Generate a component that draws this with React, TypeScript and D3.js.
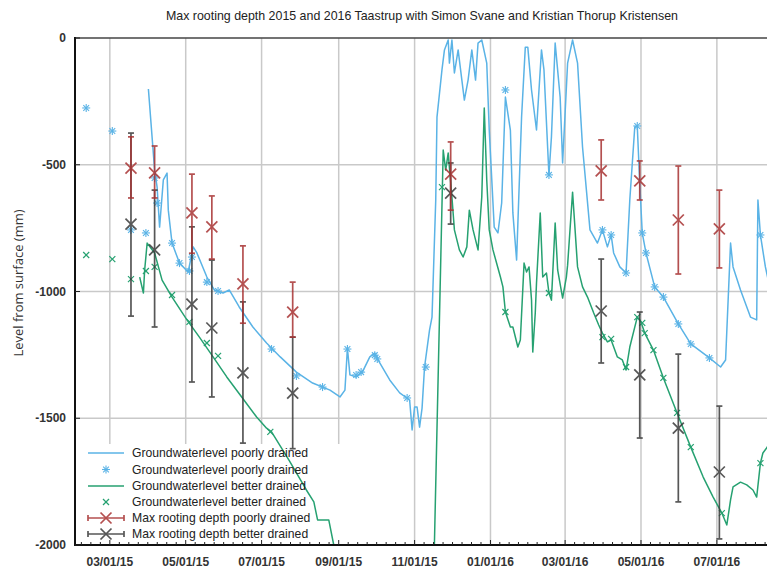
import React from "react";
import * as d3 from "d3";

// ---------- DATA ----------
const title = "Max rooting depth 2015 and 2016 Taastrup with Simon Svane and Kristian Thorup Kristensen";
const yLabel = "Level from surface (mm)";
const yTicks = [0, -500, -1000, -1500, -2000];

// continuous groundwater level, poorly drained [date, mm]
const poorlyLine: [string, number][] = [
  ["2015-04-01",-201],["2015-04-06",-521],["2015-04-08",-588],["2015-04-10",-746],["2015-04-13",-560],["2015-04-16",-533],["2015-04-17",-679],["2015-04-20",-809],["2015-04-26",-888],["2015-05-03",-923],["2015-05-07",-824],["2015-05-10",-848],["2015-05-18",-943],["2015-05-24",-994],["2015-05-31",-1006],["2015-06-05",-994],["2015-06-13",-1061],["2015-06-24",-1140],["2015-07-05",-1203],["2015-07-16",-1258],["2015-07-29",-1318],["2015-08-11",-1361],["2015-08-25",-1389],["2015-09-02",-1416],["2015-09-06",-1389],["2015-09-08",-1223],["2015-09-10",-1329],["2015-09-15",-1337],["2015-09-20",-1318],["2015-09-26",-1258],["2015-09-30",-1243],["2015-10-04",-1282],["2015-10-12",-1349],["2015-10-20",-1400],["2015-10-28",-1428],["2015-10-30",-1546],["2015-11-01",-1456],["2015-11-03",-1456],["2015-11-05",-1535],["2015-11-07",-1460],["2015-11-09",-1298],["2015-11-13",-1152],["2015-11-15",-1101],["2015-11-18",-639],["2015-11-19",-312],["2015-11-23",-126],["2015-11-25",-47],["2015-11-28",-8],["2015-11-29",-99],["2015-12-01",-8],["2015-12-03",-138],["2015-12-06",-47],["2015-12-09",-166],["2015-12-11",-245],["2015-12-14",-166],["2015-12-17",-47],["2015-12-20",-166],["2015-12-22",-20],["2015-12-25",-8],["2015-12-29",-99],["2015-12-31",-363],["2016-01-04",-746],["2016-01-07",-769],["2016-01-10",-651],["2016-01-13",-233],["2016-01-17",-363],["2016-01-19",-690],["2016-01-22",-876],["2016-01-26",-312],["2016-01-29",-36],["2016-01-31",-36],["2016-02-03",-205],["2016-02-07",-363],["2016-02-11",-47],["2016-02-13",-126],["2016-02-17",-540],["2016-02-19",-391],["2016-02-22",-20],["2016-02-26",-233],["2016-02-28",-493],["2016-03-03",-99],["2016-03-07",-8],["2016-03-11",-99],["2016-03-15",-430],["2016-03-21",-757],["2016-03-27",-809],["2016-03-31",-757],["2016-04-04",-824],["2016-04-07",-777],["2016-04-09",-848],["2016-04-14",-903],["2016-04-19",-927],["2016-04-22",-639],["2016-04-26",-351],["2016-04-28",-347],["2016-04-30",-572],["2016-05-02",-769],["2016-05-05",-848],["2016-05-12",-982],["2016-05-19",-1022],["2016-05-31",-1128],["2016-06-10",-1207],["2016-06-25",-1262],["2016-07-04",-1298],["2016-07-08",-1270],["2016-07-12",-809],["2016-07-14",-903],["2016-07-20",-994],["2016-07-28",-1101],["2016-08-02",-1112],["2016-08-03",-639],["2016-08-05",-777],["2016-08-09",-903],["2016-08-13",-994]
];

// manual groundwater readings, poorly drained
const poorlyPoints: [string, number][] = [
  ["2015-02-10",-276],["2015-03-03",-367],["2015-03-18",-757],["2015-03-30",-769],["2015-04-06",-552],["2015-04-08",-651],["2015-04-20",-809],["2015-04-26",-888],["2015-05-04",-919],["2015-05-06",-864],["2015-05-18",-963],["2015-05-27",-998],["2015-07-09",-1227],["2015-07-29",-1333],["2015-08-19",-1377],["2015-09-08",-1227],["2015-09-15",-1329],["2015-09-19",-1318],["2015-09-30",-1251],["2015-10-02",-1266],["2015-10-26",-1420],["2015-11-10",-1298],["2016-01-13",-205],["2016-02-17",-540],["2016-03-31",-757],["2016-04-07",-777],["2016-04-19",-927],["2016-04-28",-347],["2016-05-02",-769],["2016-05-05",-848],["2016-05-12",-982],["2016-05-19",-1022],["2016-05-31",-1128],["2016-06-10",-1207],["2016-06-25",-1262],["2016-08-05",-777]
];

// continuous groundwater level, better drained
const betterLine: [string, number][] = [
  ["2015-03-25",-943],["2015-03-28",-1006],["2015-03-29",-915],["2015-03-31",-809],["2015-04-06",-848],["2015-04-12",-955],["2015-04-20",-1022],["2015-05-02",-1112],["2015-05-12",-1180],["2015-05-23",-1258],["2015-06-03",-1337],["2015-06-15",-1416],["2015-06-27",-1495],["2015-07-05",-1539],["2015-07-09",-1554],["2015-07-23",-1665],["2015-08-06",-1783],["2015-08-12",-1830],["2015-08-15",-1901],["2015-08-24",-1901],["2015-08-28",-2000],["2015-08-31",-2080],["2015-11-16",-2200],["2015-11-24",-442],["2015-11-26",-521],["2015-11-28",-454],["2015-12-01",-627],["2015-12-03",-757],["2015-12-07",-836],["2015-12-10",-864],["2015-12-13",-824],["2015-12-15",-679],["2015-12-18",-757],["2015-12-22",-836],["2015-12-25",-627],["2015-12-27",-276],["2015-12-29",-560],["2015-12-31",-757],["2016-01-03",-836],["2016-01-09",-943],["2016-01-11",-982],["2016-01-13",-1081],["2016-01-17",-1140],["2016-01-19",-1140],["2016-01-23",-1219],["2016-01-25",-1191],["2016-01-28",-888],["2016-01-30",-923],["2016-02-01",-903],["2016-02-03",-1034],["2016-02-04",-1239],["2016-02-06",-1085],["2016-02-07",-967],["2016-02-10",-690],["2016-02-12",-943],["2016-02-15",-927],["2016-02-17",-1006],["2016-02-19",-1034],["2016-02-22",-730],["2016-02-24",-915],["2016-02-28",-1026],["2016-03-02",-943],["2016-03-03",-896],["2016-03-07",-608],["2016-03-11",-903],["2016-03-15",-982],["2016-03-19",-1022],["2016-03-24",-1085],["2016-03-28",-1132],["2016-03-31",-1164],["2016-04-04",-1199],["2016-04-07",-1191],["2016-04-12",-1258],["2016-04-16",-1270],["2016-04-19",-1310],["2016-04-22",-1219],["2016-04-28",-1101],["2016-05-01",-1120],["2016-05-04",-1164],["2016-05-11",-1231],["2016-05-19",-1341],["2016-05-30",-1479],["2016-06-10",-1614],["2016-06-20",-1732],["2016-06-28",-1811],["2016-07-05",-1874],["2016-07-09",-1921],["2016-07-12",-1822],["2016-07-14",-1771],["2016-07-20",-1752],["2016-07-25",-1763],["2016-07-30",-1783],["2016-08-02",-1811],["2016-08-05",-1677],["2016-08-07",-1637],["2016-08-10",-1617],["2016-08-14",-1586]
];

// manual groundwater readings, better drained
const betterPoints: [string, number][] = [
  ["2015-02-10",-856],["2015-03-03",-872],["2015-03-18",-951],["2015-03-30",-919],["2015-04-06",-903],["2015-04-20",-1014],["2015-05-04",-1120],["2015-05-18",-1203],["2015-05-27",-1254],["2015-07-08",-1554],["2015-11-23",-588],["2016-01-13",-1081],["2016-02-17",-1006],["2016-03-31",-1180],["2016-04-07",-1187],["2016-04-19",-1298],["2016-04-28",-1101],["2016-05-02",-1124],["2016-05-04",-1164],["2016-05-11",-1231],["2016-05-19",-1341],["2016-05-30",-1479],["2016-06-10",-1614],["2016-07-05",-1874],["2016-08-05",-1677]
];

// max rooting depth: [date, mean, low, high]
const rootPoorly: [string, number, number, number][] = [
  ["2015-03-18",-513,-631,-390],["2015-04-06",-532,-631,-426],["2015-05-06",-690,-849,-537],["2015-05-22",-745,-872,-623],["2015-06-16",-970,-1125,-820],["2015-07-26",-1081,-1180,-963],["2015-11-30",-537,-679,-410],["2016-03-30",-524,-639,-402],["2016-04-30",-564,-639,-485],["2016-05-31",-718,-931,-505],["2016-07-03",-753,-907,-600]
];
const rootBetter: [string, number, number, number][] = [
  ["2015-03-18",-734,-1097,-375],["2015-04-06",-836,-1140,-600],["2015-05-06",-1050,-1357,-745],["2015-05-22",-1144,-1416,-876],["2015-06-16",-1321,-1598,-1041],["2015-07-26",-1401,-1620,-1180],["2015-11-30",-612,-734,-493],["2016-03-30",-1077,-1282,-872],["2016-04-30",-1329,-1578,-1081],["2016-05-31",-1539,-1830,-1247],["2016-07-03",-1712,-1976,-1452]
];

const legendLabels = [
  "Groundwaterlevel poorly drained",
  "Groundwaterlevel poorly drained",
  "Groundwaterlevel better drained",
  "Groundwaterlevel better drained",
  "Max rooting depth poorly drained",
  "Max rooting depth better drained",
];

// ---------- STYLE ----------
const W = 767, H = 570;
const BLUE = "#5ab3e6";
const GREEN = "#26a171";
const RED = "#a83232";
const BLACK = "#3a3a3a";
const GRID = "#c9c9c9";
const FONT = "'Liberation Sans', Arial, sans-serif";

const parse = d3.utcParse("%Y-%m-%d");
const fmt = d3.utcFormat("%m/%d/%y");

function Star({ x, y, r, color }: { x: number; y: number; r: number; color: string }) {
  const d = r * 0.72;
  return (
    <g stroke={color} strokeWidth={1.1}>
      <line x1={x - r} y1={y} x2={x + r} y2={y} />
      <line x1={x} y1={y - r} x2={x} y2={y + r} />
      <line x1={x - d} y1={y - d} x2={x + d} y2={y + d} />
      <line x1={x - d} y1={y + d} x2={x + d} y2={y - d} />
    </g>
  );
}
function Cross({ x, y, r, color, w = 1.2 }: { x: number; y: number; r: number; color: string; w?: number }) {
  return (
    <g stroke={color} strokeWidth={w}>
      <line x1={x - r} y1={y - r} x2={x + r} y2={y + r} />
      <line x1={x - r} y1={y + r} x2={x + r} y2={y - r} />
    </g>
  );
}

export default function App() {
  const left = 75, top = 38, bottom = 545, right = 794;
  const x = d3.scaleUtc().domain([parse("2015-02-01")!, parse("2016-09-01")!]).range([left, right]);
  const y = d3.scaleLinear().domain([0, -2000]).range([top, bottom]);

  const majors = x.ticks(d3.utcMonth.every(2)!).filter((d) => d > x.domain()[0]);
  const minors: number[] = [];
  for (let i = 0; i < majors.length; i++) {
    const a = x(majors[i]);
    const b = i + 1 < majors.length ? x(majors[i + 1]) : a + (a - x(majors[i - 1]));
    for (let k = 1; k < 8; k++) minors.push(a + ((b - a) * k) / 8);
  }
  {
    const a = x(majors[0]);
    const step = (x(majors[1]) - a) / 8;
    for (let p = a - step; p > left; p -= step) minors.push(p);
  }

  const line = d3
    .line<[string, number]>()
    .x((d) => x(parse(d[0])!))
    .y((d) => y(d[1]));

  const legendY = [453, 469.5, 486, 502, 518, 534];
  const lx1 = 88, lx2 = 124, lxm = (lx1 + lx2) / 2, ltx = 132;

  const errBars = (data: [string, number, number, number][], color: string) =>
    data.map((d, i) => {
      const cx = x(parse(d[0])!);
      return (
        <g key={i} stroke={color} strokeWidth={1.7} opacity={0.85}>
          <line x1={cx} x2={cx} y1={y(d[2])} y2={y(d[3])} />
          <line x1={cx - 3} x2={cx + 3} y1={y(d[2])} y2={y(d[2])} />
          <line x1={cx - 3} x2={cx + 3} y1={y(d[3])} y2={y(d[3])} />
          <Cross x={cx} y={y(d[1])} r={5.5} color={color} w={1.7} />
        </g>
      );
    });

  return (
    <svg width={W} height={H} style={{ position: "absolute", left: 0, top: 0, background: "#fff" }} fontFamily={FONT}>
      <defs>
        <clipPath id="plot">
          <rect x={left} y={top} width={right - left} height={bottom - top} />
        </clipPath>
      </defs>
      <rect x={0} y={0} width={W} height={H} fill="#fff" />
      <text x={422} y={20} textAnchor="middle" fontSize={12.4} fill="#222">{title}</text>

      {/* grid */}
      {yTicks.filter((t) => t !== 0 && t !== -2000).map((t) => (
        <line key={t} x1={left} x2={W} y1={y(t)} y2={y(t)} stroke={GRID} strokeWidth={1.5} />
      ))}
      {majors.map((d, i) => (
        <line key={i} x1={x(d)} x2={x(d)} y1={top} y2={bottom} stroke={GRID} strokeWidth={1.5} />
      ))}

      {/* legend background */}
      <rect x={77} y={444} width={264} height={100} fill="#fff" />

      {/* data */}
      <g clipPath="url(#plot)">
        <path d={line(poorlyLine)!} fill="none" stroke={BLUE} strokeWidth={1.5} strokeLinejoin="round" />
        <path d={line(betterLine)!} fill="none" stroke={GREEN} strokeWidth={1.5} strokeLinejoin="round" />
        {poorlyPoints.map((d, i) => (
          <Star key={i} x={x(parse(d[0])!)} y={y(d[1])} r={4} color={BLUE} />
        ))}
        {betterPoints.map((d, i) => (
          <Cross key={i} x={x(parse(d[0])!)} y={y(d[1])} r={3} color={GREEN} />
        ))}
        {errBars(rootBetter, BLACK)}
        {errBars(rootPoorly, RED)}
      </g>

      {/* axes frame */}
      <line x1={left} x2={W} y1={top} y2={top} stroke="#444" strokeWidth={1.5} />
      <line x1={left} x2={W} y1={bottom} y2={bottom} stroke="#111" strokeWidth={2} />
      <line x1={left} x2={left} y1={top - 1} y2={bottom + 1} stroke="#111" strokeWidth={2} />
      {minors.filter((p) => p > left && p < W).map((p, i) => (
        <line key={i} x1={p} x2={p} y1={bottom} y2={bottom - 3} stroke="#222" strokeWidth={1} />
      ))}
      {majors.map((d, i) => (
        <line key={i} x1={x(d)} x2={x(d)} y1={bottom} y2={bottom - 5} stroke="#222" strokeWidth={1} />
      ))}
      {yTicks.map((t) => (
        <g key={t}>
          <line x1={left} x2={left + 5} y1={y(t)} y2={y(t)} stroke="#222" strokeWidth={1} />
          <text x={66} y={y(t)} dy="0.35em" textAnchor="end" fontSize={12} fontWeight="bold" fill="#333">{t}</text>
        </g>
      ))}
      {majors.filter((d) => x(d) < W - 26).map((d, i) => (
        <text key={i} x={x(d)} y={566} textAnchor="middle" fontSize={12} fontWeight="bold" fill="#333">{fmt(d)}</text>
      ))}
      <text transform={`translate(23,283) rotate(-90)`} textAnchor="middle" fontSize={13} fill="#333" fontFamily="'Open Sans', sans-serif">{yLabel}</text>

      {/* legend */}
      {legendLabels.map((lab, i) => (
        <text key={i} x={ltx} y={legendY[i]} dy="0.35em" fontSize={12.2} fill="#222">{lab}</text>
      ))}
      <line x1={lx1} x2={lx2} y1={legendY[0]} y2={legendY[0]} stroke={BLUE} strokeWidth={1.5} />
      <Star x={lxm} y={legendY[1]} r={4} color={BLUE} />
      <line x1={lx1} x2={lx2} y1={legendY[2]} y2={legendY[2]} stroke={GREEN} strokeWidth={1.5} />
      <Cross x={lxm} y={legendY[3]} r={3} color={GREEN} />
      {[RED, BLACK].map((c, i) => {
        const ly = legendY[4 + i];
        return (
          <g key={c} stroke={c} strokeWidth={1.7} opacity={0.85}>
            <line x1={lx1} x2={lx2} y1={ly} y2={ly} />
            <line x1={lx1} x2={lx1} y1={ly - 3} y2={ly + 3} />
            <line x1={lx2} x2={lx2} y1={ly - 3} y2={ly + 3} />
            <Cross x={lxm} y={ly} r={5.5} color={c} w={1.7} />
          </g>
        );
      })}
    </svg>
  );
}
